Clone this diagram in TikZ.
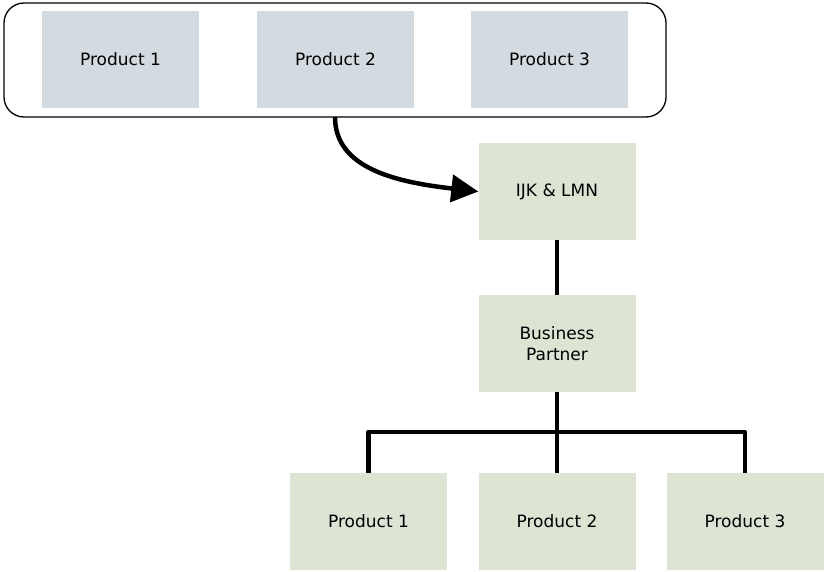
\documentclass[tikz,border=0pt]{standalone}
\usepackage{fontspec}
\setmainfont{DejaVu Sans}
\usetikzlibrary{arrows.meta}
\definecolor{prodblue}{HTML}{D3DBE0}
\definecolor{leafgreen}{HTML}{DDE4D3}
\begin{document}
\begin{tikzpicture}[x=1pt,y=-1pt,
  box/.style={draw=none,minimum width=157pt,minimum height=97pt,inner sep=0pt,
    align=center,font=\fontsize{17}{20.5}\selectfont},
  bluebox/.style={box,fill=prodblue},
  greenbox/.style={box,fill=leafgreen},
  link/.style={line width=4.5pt,black}]
\useasboundingbox (0,0) rectangle (825,572);
% group of products
\node[draw,line width=1.3pt,rounded corners=20pt,minimum width=662pt,minimum height=114pt,
  inner sep=0pt] (group) at (335,60) {};
\node[bluebox] (tp1) at (120.5,59.5) {Product 1};
\node[bluebox] (tp2) at (335.5,59.5) {Product 2};
\node[bluebox] (tp3) at (549.5,59.5) {Product 3};
% hierarchy
\node[greenbox] (ijk) at (557,191.5) {IJK \& LMN};
\node[greenbox] (bp) at (557,343.5) {Business\\Partner};
\node[greenbox] (bp1) at (368.5,521.5) {Product 1};
\node[greenbox] (bp2) at (557,521.5) {Product 2};
\node[greenbox] (bp3) at (745,521.5) {Product 3};
\coordinate (arrstart) at (335,117);
\draw[link,-{Triangle[length=27pt,width=27pt]}] (arrstart) .. controls (335,168) and (395,182) .. (ijk.west);
\draw[link] (ijk.south) -- (bp.north);
\draw[link] (bp.south) -- (557,432);
\draw[link,line join=round] (bp1.north) |- (557,432) -| (bp3.north);
\draw[link] (557,432) -- (bp2.north);
\end{tikzpicture}
\end{document}
